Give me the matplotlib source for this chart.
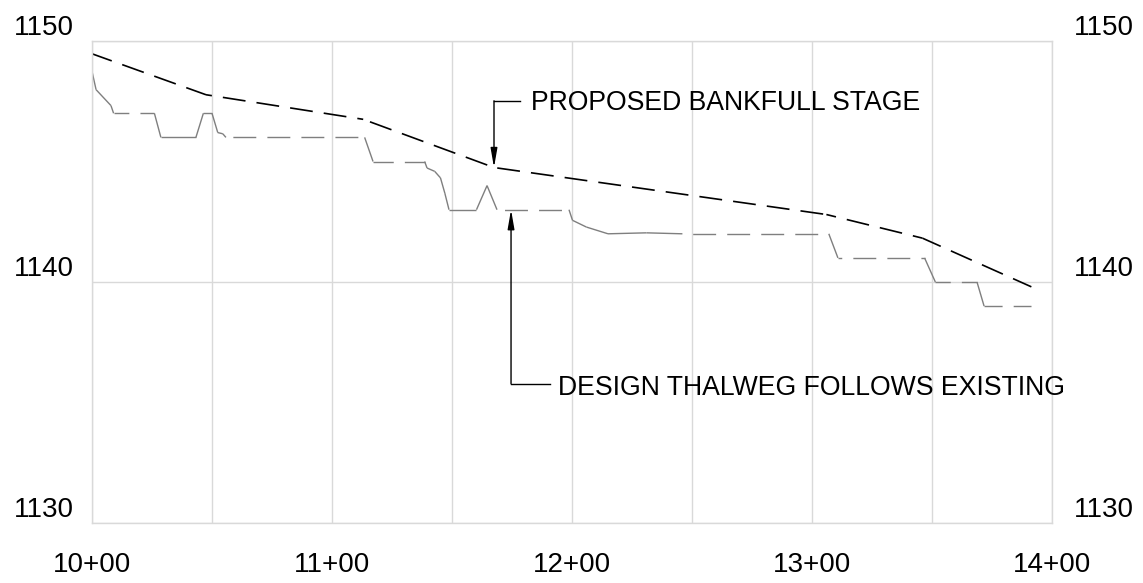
import numpy as np
import matplotlib.pyplot as plt
from matplotlib.ticker import FuncFormatter
from matplotlib.transforms import ScaledTranslation

plt.rcParams['font.family'] = ['Liberation Sans', 'DejaVu Sans']
plt.rcParams['lines.scale_dashes'] = False

# ── profile data (station in ft, elevation in ft) ─────────────────────────────
bankfull_sta = [1000, 1047.5, 1113, 1167.5, 1306, 1346, 1391.4]
bankfull_elev = [1149.47, 1147.77, 1146.75, 1144.75, 1142.8, 1141.82, 1139.8]

thalweg_sta = [1000, 1001.7, 1007.9, 1009, 1026, 1028.7, 1043.3, 1046.4, 1050,
               1052.4, 1054.5, 1055.8, 1113.6, 1117.1, 1138.6, 1139.6, 1142.8,
               1145.2, 1147, 1148.75, 1160.2, 1164.6, 1168.75, 1198.75, 1200.2,
               1206, 1215, 1231, 1246, 1307, 1310.8, 1346.9, 1351.4, 1368.75,
               1371.7, 1391.4]
thalweg_elev = [1148.74, 1147.98, 1147.32, 1147, 1147, 1146, 1146, 1147, 1147,
                1146.2, 1146.15, 1146, 1146, 1145, 1145, 1144.73, 1144.59,
                1144.32, 1143.69, 1143, 1143, 1144, 1143, 1143, 1142.56,
                1142.28, 1142, 1142.04, 1142, 1142, 1141, 1141, 1140, 1140,
                1139, 1139]

y_ticks = [1130, 1140, 1150]
x_grid = np.arange(1000, 1401, 50)

# leader notes: text, arrow tip, elbow, leader start x, text x, text baseline y
NOTES = [
    ("PROPOSED BANKFULL STAGE", (1167.5, 1144.75), (1167.5, 1147.52), 1178.2, 1182.8, 1147.12),
    ("DESIGN THALWEG FOLLOWS EXISTING", (1174.6, 1143.0), (1174.6, 1135.78), 1191.0, 1194.3, 1135.32),
]

GRID = "#d9d9d9"
FS_TICK = 20
FS_NOTE = 19.2
DASH_ON, DASH_OFF = 16.5, 8.0   # points
MIN_DASHED = 28.5               # shorter segments are drawn solid (CAD linetype)


def station_fmt(v, _):
    if v % 100:
        return ""
    return f"{int(v // 100)}+{int(v % 100):02d}"


def cad_line(ax, xs, ys, color, lw):
    """Polyline drawn segment by segment, dash pattern centred on each one."""
    pts = ax.transData.transform(np.column_stack([xs, ys]))
    period = DASH_ON + DASH_OFF
    for i in range(len(xs) - 1):
        L = np.hypot(*(pts[i + 1] - pts[i])) * 72.0 / ax.figure.dpi
        if L < MIN_DASHED:
            ls = "-"
        else:
            off = (DASH_ON + DASH_OFF / 2 - L / 2) % period
            ls = (off, (DASH_ON, DASH_OFF))
        ax.plot(xs[i:i + 2], ys[i:i + 2], color=color, lw=lw, linestyle=ls,
                solid_capstyle="butt", dash_capstyle="butt")


fig = plt.figure(figsize=(11.43, 5.83), dpi=100)
ax = fig.add_axes([92 / 1143, 1 - 523 / 583, 960 / 1143, 482 / 583])
ax.set_xlim(1000, 1400)
ax.set_ylim(1130, 1150)

ax.set_xticks(x_grid)
ax.xaxis.set_major_formatter(FuncFormatter(station_fmt))
ax.set_yticks(y_ticks)
ax.grid(True, color=GRID, lw=1)
ax.set_axisbelow(True)
for s in ax.spines.values():
    s.set_color(GRID)
    s.set_linewidth(1)
ax.tick_params(axis="both", length=0, labelsize=FS_TICK)
ax.tick_params(axis="y", labelright=True, pad=13)
ax.tick_params(axis="x", pad=21)

# y labels sit above their gridline
up = ScaledTranslation(0, 0.16, fig.dpi_scale_trans)
up_r = ScaledTranslation(0.04, 0.16, fig.dpi_scale_trans)
for t in ax.yaxis.get_major_ticks():
    t.label1.set_transform(t.label1.get_transform() + up)
    t.label2.set_transform(t.label2.get_transform() + up_r)

cad_line(ax, thalweg_sta, thalweg_elev, "#7f7f7f", 1.0)
cad_line(ax, bankfull_sta, bankfull_elev, "black", 1.2)

for text, tip, corner, lx, tx, ty in NOTES:
    ax.plot([lx, corner[0]], [corner[1], corner[1]], color="black", lw=1)
    ax.annotate("", xy=tip, xytext=corner,
                arrowprops=dict(arrowstyle="-|>,head_length=1.15,head_width=0.2",
                                color="black", lw=1, mutation_scale=10,
                                shrinkA=0, shrinkB=0))
    ax.text(tx, ty, text, fontsize=FS_NOTE, va="baseline", ha="left")

fig.savefig("out.png", dpi=100)
